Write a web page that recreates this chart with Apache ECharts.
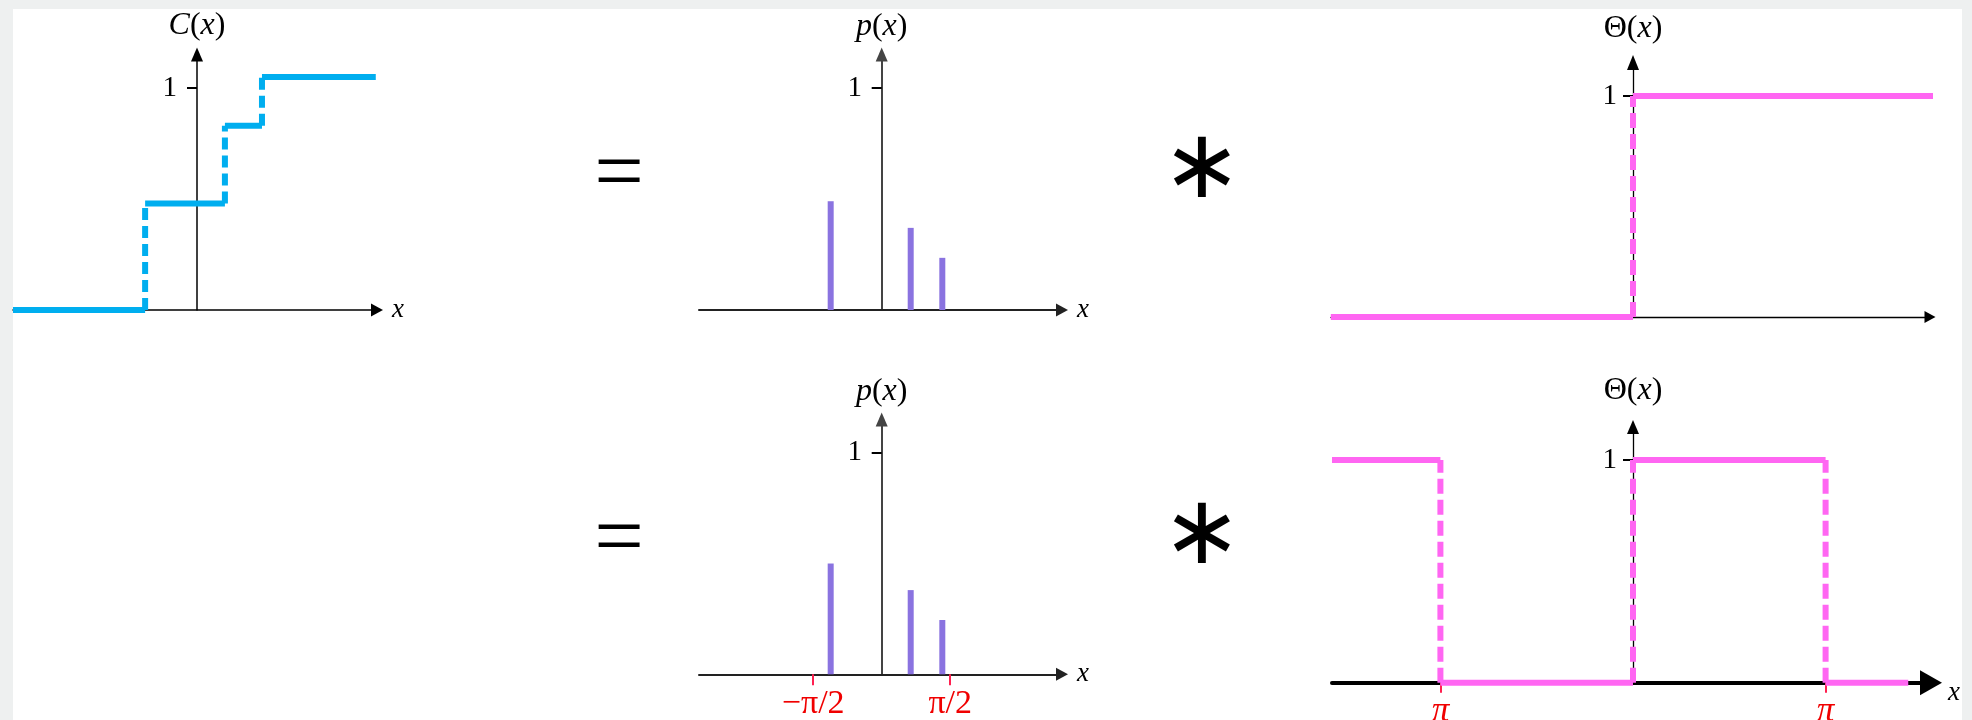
<!DOCTYPE html>
<html>
<head>
<meta charset="utf-8">
<script src="https://cdn.jsdelivr.net/npm/echarts@6/dist/echarts.min.js"></script>
<style>
  html, body { margin: 0; padding: 0; background: #eef0f0; }
  #bg { position: absolute; left: 13px; top: 9px; width: 1949px; height: 711px; background: #ffffff; }
  #chart { position: absolute; left: 0; top: 0; width: 1972px; height: 720px; }
</style>
</head>
<body>
<div id="bg"></div>
<div id="chart"></div>
<script>
// ---------- data ----------
const cBreaks = [-1.19, 0.64, 1.49];
const cLevels = [0, 0.48, 0.83, 1.05];
const cEnds = [-4.22, 4.10];

const pX = [-1.17, 0.665, 1.39];
const pTop = [0.49, 0.37, 0.235];
const pBottom = [0.50, 0.38, 0.245];

const thetaTopBreaks = [0];
const thetaTopLevels = [0, 1];
const thetaTopEnds = [-4.93, 4.94];

const thetaBotBreaks = [-3.1416, 0, 3.1416];
const thetaBotLevels = [1, 0, 1, 0];
const thetaBotEnds = [-4.91, 4.49];

const yTickValues = [1];
const yTickLabels = ['1'];
const pTickValues = [-1.5708, 1.5708];
const pTickLabels = ['\u2212\u03c0/2', '\u03c0/2'];
const thetaTickValues = [-3.1416, 3.1416];
const thetaTickLabels = ['\u03c0', '\u03c0'];

// ---------- styles ----------
const SERIF = "'Liberation Serif', 'DejaVu Serif', serif";
const BLUE = '#00aeef';
const PINK = '#ff66f2';
const PURPLE = '#8a73e0';
const RED = '#f00000';

function stepSeries(gi, breaks, levels, ends, color, dash) {
  const out = [];
  const xs = [ends[0]].concat(breaks, [ends[1]]);
  for (let i = 0; i < levels.length; i++) {
    out.push({
      type: 'line', xAxisIndex: gi, yAxisIndex: gi, symbol: 'none', clip: false, silent: true,
      lineStyle: { color: color, width: 6, cap: 'butt' }, z: 3,
      data: [[xs[i], levels[i]], [xs[i + 1], levels[i]]]
    });
  }
  for (let i = 0; i < breaks.length; i++) {
    out.push({
      type: 'line', xAxisIndex: gi, yAxisIndex: gi, symbol: 'none', clip: false, silent: true,
      lineStyle: { color: color, width: 6, type: dash, cap: 'butt' }, z: 3,
      data: [[breaks[i], Math.min(levels[i], levels[i + 1])], [breaks[i], Math.max(levels[i], levels[i + 1])]]
    });
  }
  return out;
}

const nameRich = {
  i: { fontFamily: SERIF, fontStyle: 'italic', fontSize: 32, color: '#000' },
  n: { fontFamily: SERIF, fontSize: 32, color: '#000' }
};

function xAxisDef(gi, min, max, o) {
  return Object.assign({
    gridIndex: gi, type: 'value', min: min, max: max,
    axisLine: { onZero: true, lineStyle: { color: o.color || '#000', width: o.width || 1.5 },
      symbol: ['none', 'triangle'], symbolSize: o.arrow || [13, 12] },
    axisTick: { show: false },
    axisLabel: { show: false },
    splitLine: { show: false },
    name: o.name || '', nameLocation: 'end', nameGap: o.nameGap || 15,
    nameTextStyle: {
      align: 'left', verticalAlign: 'middle',
      rich: {
        x: { fontFamily: SERIF, fontStyle: 'italic', fontSize: 27, color: '#000', padding: o.namePad || [0, 0, 0, 0] }
      }
    }
  }, o.extra || {});
}

// labelX: pixel x of the right edge of the "1" label; gridLeft: grid's left edge
function yAxisDef(gi, max, gridLeft, labelX, o) {
  return {
    gridIndex: gi, type: 'value', min: 0, max: max,
    axisLine: { onZero: true, lineStyle: { color: o.color || '#000', width: o.width || 1.5 },
      symbol: ['none', 'triangle'], symbolSize: o.arrow || [12, 14] },
    axisTick: { show: true, customValues: yTickValues, length: 10, lineStyle: { color: '#000', width: 2 } },
    axisLabel: { show: true, customValues: yTickValues, margin: gridLeft - labelX,
      formatter: v => yTickLabels[yTickValues.indexOf(v)] ?? '',
      fontFamily: SERIF, fontSize: 29, color: '#000' },
    splitLine: { show: false },
    name: o.name, nameLocation: 'end', nameGap: o.nameGap,
    nameTextStyle: { rich: nameRich, align: 'center', verticalAlign: 'bottom' }
  };
}

const grids = [
  { left: 13, top: 54.5, width: 364, height: 255.5 },     // C(x)
  { left: 699, top: 54.5, width: 363, height: 255.5 },    // p(x) top
  { left: 699, top: 419.5, width: 363, height: 254.8 },   // p(x) bottom
  { left: 1331, top: 62.5, width: 599, height: 254.5 },   // Theta top
  { left: 1332, top: 427, width: 599, height: 255.7 }     // Theta bottom
].map(g => Object.assign({ containLabel: false, outerBoundsMode: 'none' }, g));

const xAxes = [
  xAxisDef(0, -4.22, 4.128, { name: '{x|x}', nameGap: 15 }),
  xAxisDef(1, -4.19, 4.135, { name: '{x|x}', nameGap: 15, color: '#222', width: 2 }),
  xAxisDef(2, -4.19, 4.135, { name: '{x|x}', nameGap: 15, color: '#222', width: 2,
    extra: {
      axisTick: { show: true, customValues: pTickValues, length: 11, lineStyle: { color: '#ff2050', width: 2 } },
      axisLabel: { show: true, customValues: pTickValues, margin: 13,
        formatter: v => pTickLabels[pTickValues.indexOf(v)] ?? '',
        fontFamily: SERIF, fontSize: 34, color: RED }
    } }),
  xAxisDef(3, -4.927, 4.845, { arrow: [12, 11], width: 1.3 }),
  xAxisDef(4, -4.91, 4.861, { name: '{x|x}', nameGap: 17, width: 4, arrow: [25, 22], namePad: [20, 0, 0, 0],
    extra: {
      axisTick: { show: true, customValues: thetaTickValues, length: 10, lineStyle: { color: '#ff2050', width: 2 } },
      axisLabel: { show: true, customValues: thetaTickValues, margin: 12,
        formatter: v => thetaTickLabels[thetaTickValues.indexOf(v)] ?? '',
        fontFamily: SERIF, fontStyle: 'italic', fontSize: 35, color: RED }
    } })
];

const yAxes = [
  yAxisDef(0, 1.151, 13, 177, { name: '{i|C}{n|(}{i|x}{n|)}', nameGap: 13 }),
  yAxisDef(1, 1.151, 699, 862, { name: '{i|p}{n|(}{i|x}{n|)}', nameGap: 12, color: '#444', width: 2 }),
  yAxisDef(2, 1.150, 699, 862, { name: '{i|p}{n|(}{i|x}{n|)}', nameGap: 12, color: '#444', width: 2 }),
  yAxisDef(3, 1.152, 1331, 1617, { name: '{n|\u0398(}{i|x}{n|)}', nameGap: 18, width: 1.3, arrow: [12, 15] }),
  yAxisDef(4, 1.148, 1332, 1617, { name: '{n|\u0398(}{i|x}{n|)}', nameGap: 20, width: 1.3, arrow: [12, 14] })
];

const series = []
  .concat(stepSeries(0, cBreaks, cLevels, cEnds, BLUE, [12, 6]))
  .concat([
    { type: 'bar', xAxisIndex: 1, yAxisIndex: 1, barWidth: 6, silent: true, z: 3,
      itemStyle: { color: PURPLE }, data: pX.map((x, i) => [x, pTop[i]]) },
    { type: 'bar', xAxisIndex: 2, yAxisIndex: 2, barWidth: 6, silent: true, z: 3,
      itemStyle: { color: PURPLE }, data: pX.map((x, i) => [x, pBottom[i]]) }
  ])
  .concat(stepSeries(3, thetaTopBreaks, thetaTopLevels, thetaTopEnds, PINK, [15, 6]))
  .concat(stepSeries(4, thetaBotBreaks, thetaBotLevels, thetaBotEnds, PINK, [15, 6]));

const opSymbols = [
  { t: '=', x: 619, y: 177, size: 88, font: SERIF },
  { t: '=', x: 619, y: 542, size: 88, font: SERIF },
  { t: '\u2217', x: 1202, y: 172, size: 96, font: "'DejaVu Sans', sans-serif" },
  { t: '\u2217', x: 1202, y: 538, size: 96, font: "'DejaVu Sans', sans-serif" }
];

const chart = echarts.init(document.getElementById('chart'), null, { renderer: 'canvas' });
chart.setOption({
  backgroundColor: 'transparent',
  animation: false,
  grid: grids,
  xAxis: xAxes,
  yAxis: yAxes,
  series: series,
  graphic: opSymbols.map(s => ({
    type: 'text', x: s.x, y: s.y, silent: true,
    style: { text: s.t, fontSize: s.size, fontFamily: s.font, fill: '#000', align: 'center', verticalAlign: 'middle' }
  }))
});
</script>
</body>
</html>
